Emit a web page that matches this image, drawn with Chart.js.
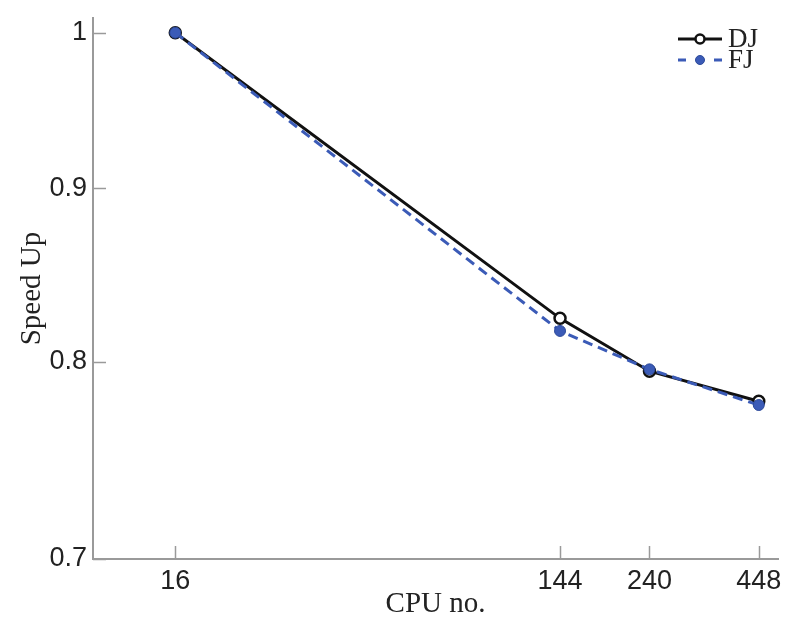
<!DOCTYPE html>
<html>
<head>
<meta charset="utf-8">
<script src="https://cdn.jsdelivr.net/npm/chart.js@4/dist/chart.umd.min.js"></script>
<style>
  html, body { margin: 0; padding: 0; background: #fff; }
  #wrap { width: 800px; height: 635px; }
</style>
</head>
<body>
<div id="wrap"><canvas id="speedChart" width="800" height="635"></canvas></div>
<script>
// Data
const cpuCounts = [16, 144, 240, 448];
const djSpeedUp = [1, 0.824, 0.795, 0.779];
const fjSpeedUp = [1, 0.817, 0.796, 0.777];
const xTicks = [16, 144, 240, 448];
const yTicks = [0.7, 0.8, 0.9, 1];
const seriesNames = ["DJ", "FJ"];

const axisColor = "#9a9a9a";
const textColor = "#222";
const blue = "#3b5bb7";

// short inward tick marks, like the original figure
const inwardTicks = {
    id: "inwardTicks",
    afterDraw(chart) {
        const { ctx, chartArea, scales } = chart;
        ctx.save();
        ctx.strokeStyle = axisColor;
        ctx.lineWidth = 1.5;
        ctx.beginPath();
        xTicks.forEach(v => {
            const px = Math.round(scales.x.getPixelForValue(v)) + 0.5;
            ctx.moveTo(px, chartArea.bottom);
            ctx.lineTo(px, chartArea.bottom - 13);
        });
        yTicks.forEach(v => {
            const py = Math.round(scales.y.getPixelForValue(v)) + 0.5;
            ctx.moveTo(chartArea.left, py);
            ctx.lineTo(chartArea.left + 13, py);
        });
        ctx.stroke();
        ctx.restore();
    }
};

// legend with line + marker samples in the top right corner
const lineLegend = {
    id: "lineLegend",
    afterDraw(chart) {
        const { ctx } = chart;
        const x0 = 678, x1 = 722;
        const rows = [39, 60];
        ctx.save();
        chart.data.datasets.forEach(ds => {
            const i = seriesNames.indexOf(ds.label);
            const y = rows[i];
            ctx.strokeStyle = ds.borderColor;
            ctx.lineWidth = 3;
            ctx.setLineDash(ds.borderDash ? [8, 28] : []);
            ctx.beginPath();
            ctx.moveTo(x0, y);
            ctx.lineTo(x1, y);
            ctx.stroke();
            ctx.setLineDash([]);
            ctx.beginPath();
            ctx.arc((x0 + x1) / 2, y, 4.5, 0, Math.PI * 2);
            ctx.fillStyle = ds.pointBackgroundColor;
            ctx.fill();
            ctx.lineWidth = ds.pointBorderWidth;
            ctx.strokeStyle = ds.pointBorderColor;
            ctx.stroke();
            ctx.fillStyle = textColor;
            ctx.font = "27px 'Liberation Serif'";
            ctx.textBaseline = "alphabetic";
            ctx.fillText(ds.label, 728, y + 8);
        });
        ctx.restore();
    }
};

const ctx = document.getElementById("speedChart").getContext("2d");

new Chart(ctx, {
    type: "line",
    data: {
        datasets: [
            {
                label: seriesNames[0],
                data: cpuCounts.map((c, i) => ({ x: c, y: djSpeedUp[i] })),
                borderColor: "#111",
                borderWidth: 3,
                pointRadius: 5.5,
                pointBackgroundColor: "#fff",
                pointBorderColor: "#111",
                pointBorderWidth: 2.5,
                tension: 0,
                order: 1
            },
            {
                label: seriesNames[1],
                data: cpuCounts.map((c, i) => ({ x: c, y: fjSpeedUp[i] })),
                borderColor: blue,
                borderWidth: 3,
                borderDash: [10, 6],
                pointRadius: 5.5,
                pointBackgroundColor: blue,
                pointBorderColor: "#2d4a9a",
                pointBorderWidth: 1,
                tension: 0,
                order: 0
            }
        ]
    },
    options: {
        responsive: false,
        animation: false,
        layout: { padding: { left: 0, right: 22, top: 18, bottom: 0 } },
        plugins: {
            legend: { display: false },
            tooltip: { enabled: false }
        },
        scales: {
            x: {
                type: "logarithmic",
                min: 10,
                max: 500,
                afterBuildTicks: s => { s.ticks = xTicks.map(v => ({ value: v })); },
                afterFit: s => { s.height = 76; },
                grid: { display: false, drawTicks: false },
                border: { display: true, color: axisColor, width: 2 },
                ticks: {
                    callback: v => String(v),
                    autoSkip: false,
                    maxRotation: 0,
                    padding: 6,
                    color: textColor,
                    font: { family: "'Liberation Sans', Arial, sans-serif", size: 27 }
                },
                title: {
                    display: true,
                    text: "CPU no.",
                    color: textColor,
                    font: { family: "'Liberation Serif', serif", size: 29, lineHeight: 1.2 },
                    padding: { top: 0, bottom: 13 }
                }
            },
            y: {
                type: "logarithmic",
                min: 0.7,
                max: 1.01,
                afterBuildTicks: s => { s.ticks = yTicks.map(v => ({ value: v })); },
                afterFit: s => { s.width = 93; },
                grid: { display: false, drawTicks: false },
                border: { display: true, color: axisColor, width: 2 },
                ticks: {
                    callback: v => String(v),
                    autoSkip: false,
                    padding: 6,
                    color: textColor,
                    font: { family: "'Liberation Sans', Arial, sans-serif", size: 27, lineHeight: 0.8 }
                },
                title: {
                    display: true,
                    text: "Speed Up",
                    color: textColor,
                    font: { family: "'Liberation Serif', serif", size: 29, lineHeight: 1.2 },
                    padding: { top: 15, bottom: 0 }
                }
            }
        }
    },
    plugins: [inwardTicks, lineLegend]
});
</script>
</body>
</html>
